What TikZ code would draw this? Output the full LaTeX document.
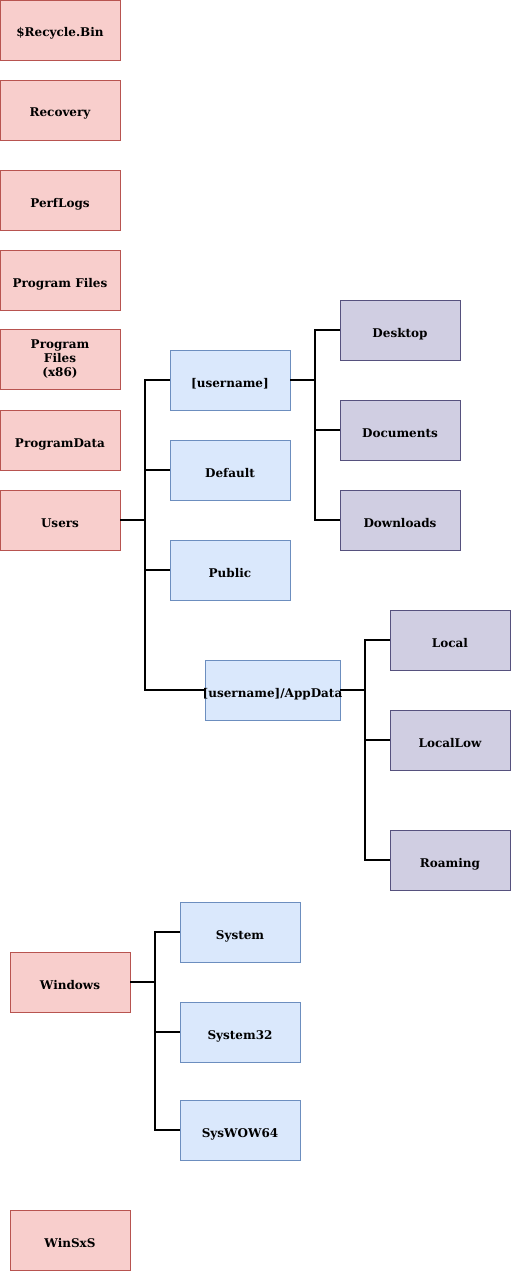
\documentclass[tikz,border=0pt]{standalone}
\usepackage{fontspec}
\setmainfont{DejaVu Serif}
\usetikzlibrary{positioning}
\definecolor{redfill}{HTML}{F8CECC}
\definecolor{redline}{HTML}{B85450}
\definecolor{bluefill}{HTML}{DAE8FC}
\definecolor{blueline}{HTML}{6C8EBF}
\definecolor{purplefill}{HTML}{D0CEE2}
\definecolor{purpleline}{HTML}{56517E}
\tikzset{folder/.style={
            draw,
            thick,
            inner sep=0pt,
            outer sep=0pt,
            minimum width=120pt,
            minimum height=60pt,
            text height=14pt,
            text depth=0pt,
            align=center,
            font=\fontsize{12}{14}\selectfont\bfseries
        },
        rootbox/.style={
            folder,
            draw=redline,
            fill=redfill
        },
        subbox/.style={
            folder,
            draw=blueline,
            fill=bluefill
        },
        leafbox/.style={
            folder,
            draw=purpleline,
            fill=purplefill
        },
        tree/.style={
            line width=1.5pt,
            black
        }
    }

\begin{document}
\begin{tikzpicture}[x=1pt,y=-1pt]
        \useasboundingbox (0,0) rectangle (511,1271);
        % top level
        \node[rootbox] at (60,30) (recycle) {\$Recycle.Bin};
        \node[rootbox] at (60,110) (recovery) {Recovery};
        \node[rootbox] at (60,200) (perflogs) {PerfLogs};
        \node[rootbox] at (60,280) (progfiles) {Program Files};
        \node[rootbox,text height=,text depth=] at (60,359) (progx86) {Program\\Files\\(x86)};
        \node[rootbox] at (60,440) (progdata) {ProgramData};
        \node[rootbox] at (60,520) (users) {Users};
        \node[rootbox] at (70,982) (windows) {Windows};
        \node[rootbox] at (70,1240) (winsxs) {WinSxS};
        % users
        \node[subbox] at (230,380) (username) {[username]};
        \node[subbox] at (230,470) (default) {Default};
        \node[subbox] at (230,570) (public) {Public};
        \node[subbox,minimum width=135pt] at (272.5,690) (appdata) {\makebox[135pt]{[username]/AppData}};
        \node[leafbox] at (400,330) (desktop) {Desktop};
        \node[leafbox] at (400,430) (documents) {Documents};
        \node[leafbox] at (400,520) (downloads) {Downloads};
        \node[leafbox] at (450,640) (local) {Local};
        \node[leafbox] at (450,740) (locallow) {LocalLow};
        \node[leafbox] at (450,860) (roaming) {Roaming};
        % windows
        \node[subbox] at (240,932) (system) {System};
        \node[subbox] at (240,1032) (system32) {System32};
        \node[subbox] at (240,1130) (syswow) {SysWOW64};
        % connectors
        \foreach \n in {username,default,public,appdata}
            \draw[tree] (users.east) -- ++(25,0) |- (\n.west);
        \foreach \n in {desktop,documents,downloads}
            \draw[tree] (username.east) -- ++(25,0) |- (\n.west);
        \foreach \n in {local,locallow,roaming}
            \draw[tree] (appdata.east) -- ++(25,0) |- (\n.west);
        \foreach \n in {system,system32,syswow}
            \draw[tree] (windows.east) -- ++(25,0) |- (\n.west);
    \end{tikzpicture}
\end{document}
